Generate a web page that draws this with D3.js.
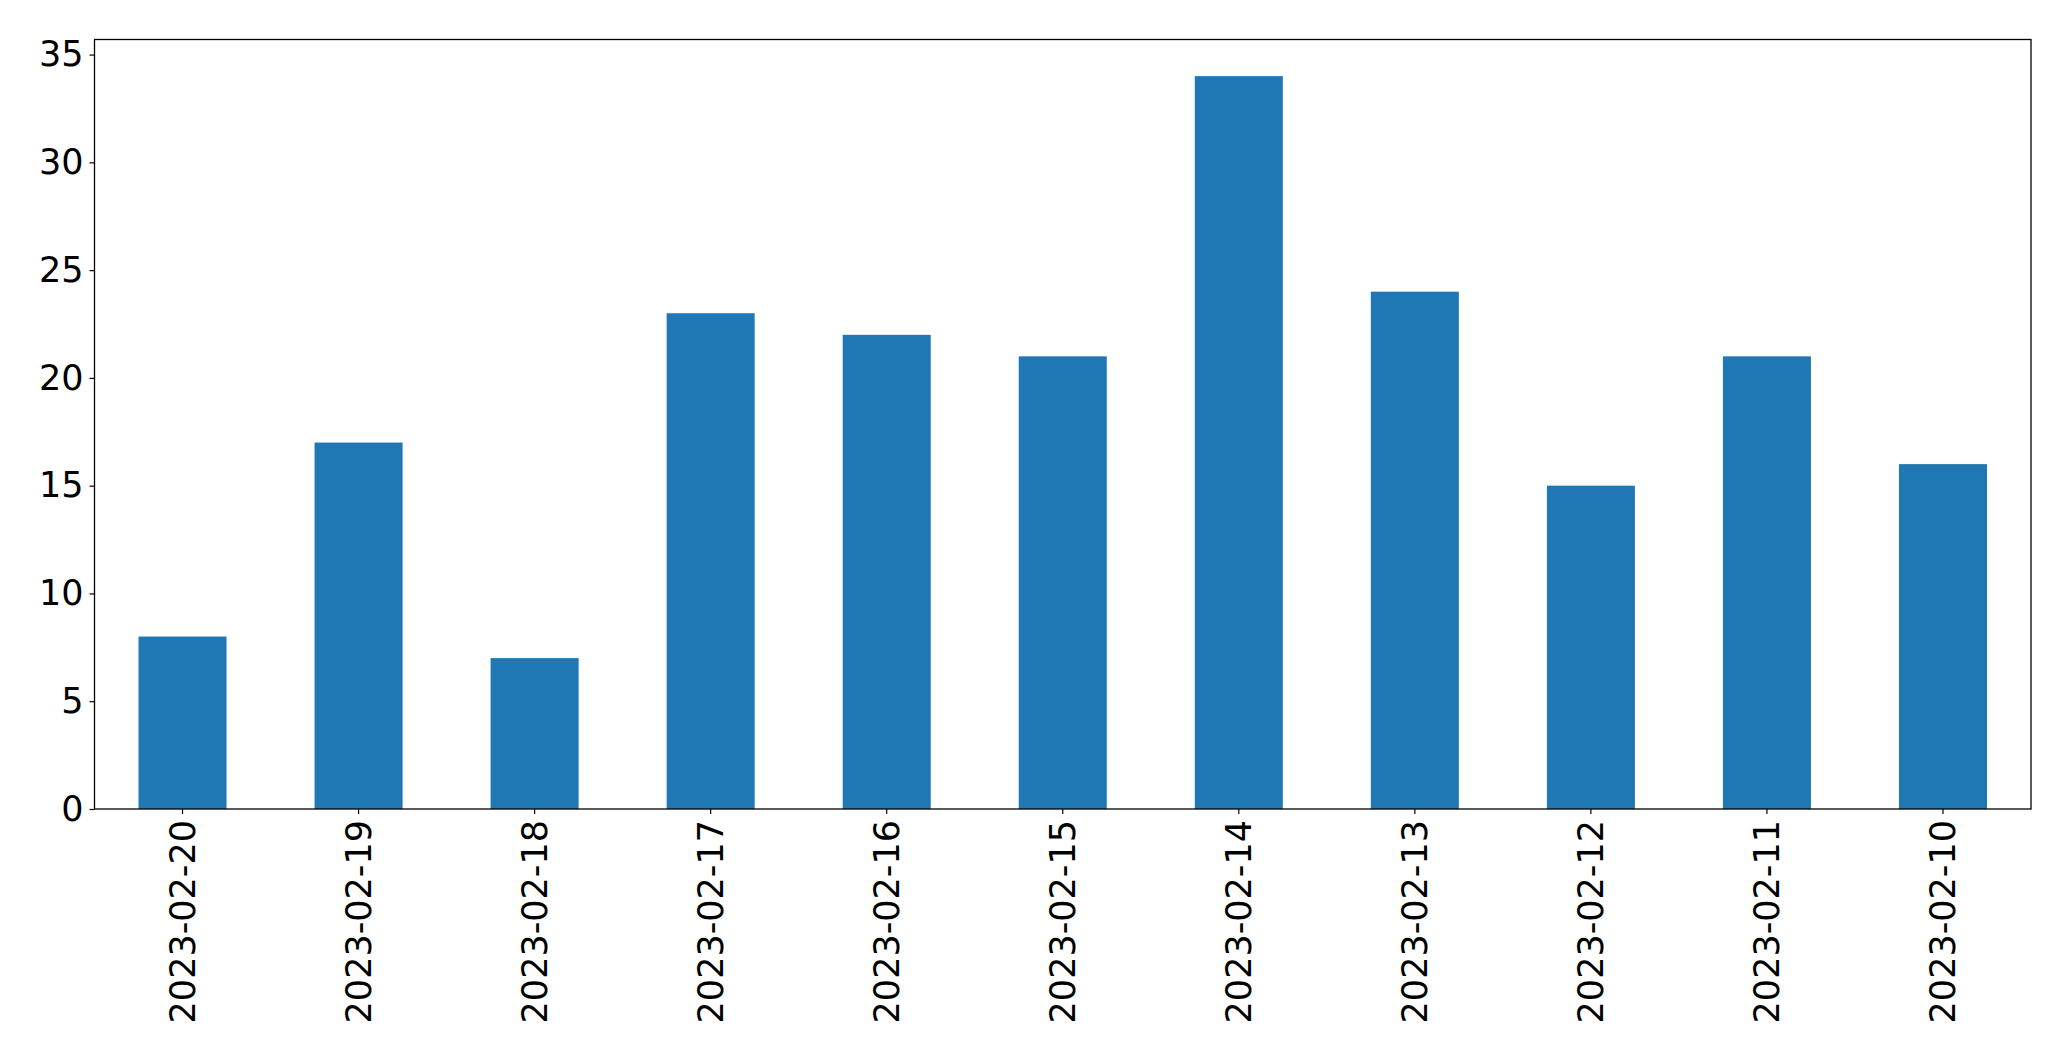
<!DOCTYPE html>
<html><head><meta charset="utf-8">
<script src="https://cdn.jsdelivr.net/npm/d3@7"></script>
<style>body{margin:0;background:#fff}svg{display:block}text{font-family:"DejaVu Sans",sans-serif}</style>
</head><body>
<script>
const categories = ["2023-02-20","2023-02-19","2023-02-18","2023-02-17","2023-02-16","2023-02-15","2023-02-14","2023-02-13","2023-02-12","2023-02-11","2023-02-10"];
const values = [8,17,7,23,22,21,34,24,15,21,16];
const yTicks = [0,5,10,15,20,25,30,35];

const W = 2071, H = 1061;
const m = {left: 94.5, right: 2031, top: 39.5, bottom: 809};
const svg = d3.select("body").append("svg").attr("width", W).attr("height", H);

const x = d3.scaleBand().domain(categories).range([m.left, m.right]).paddingInner(0.5).paddingOuter(0.25);
const ymax = d3.max(values) * 1.05;
const y = d3.scaleLinear().domain([0, ymax]).range([m.bottom, m.top]);

svg.append("g").selectAll("rect").data(values).join("rect")
  .attr("x", (d,i) => x(categories[i]))
  .attr("width", x.bandwidth())
  .attr("y", d => y(d))
  .attr("height", d => y(0) - y(d))
  .attr("fill", "#1f77b4");

const fs = 35;
const yAxis = svg.append("g").attr("transform", `translate(${m.left},0)`)
  .call(d3.axisLeft(y).tickValues(yTicks).tickSize(5).tickPadding(6).tickFormat(d3.format("d")));
yAxis.select(".domain").remove();
yAxis.selectAll("text").attr("font-size", fs).attr("fill", "#000").style("font-family", "DejaVu Sans");
yAxis.selectAll("line").attr("stroke", "#000").attr("stroke-width", 1.2);

const xAxis = svg.append("g").attr("transform", `translate(0,${m.bottom})`)
  .call(d3.axisBottom(x).tickSize(5).tickPadding(0));
xAxis.select(".domain").remove();
xAxis.selectAll("line").attr("stroke", "#000").attr("stroke-width", 1.2);
xAxis.selectAll("text")
  .attr("font-size", fs).attr("fill", "#000").style("font-family", "DejaVu Sans")
  .attr("text-anchor", "end")
  .attr("transform", "rotate(-90)")
  .attr("x", -11).attr("y", 0).attr("dy", "0.35em");

svg.append("rect").attr("x", m.left).attr("y", m.top)
  .attr("width", m.right - m.left).attr("height", m.bottom - m.top)
  .attr("fill", "none").attr("stroke", "#000").attr("stroke-width", 1.3);
</script>
</body></html>
